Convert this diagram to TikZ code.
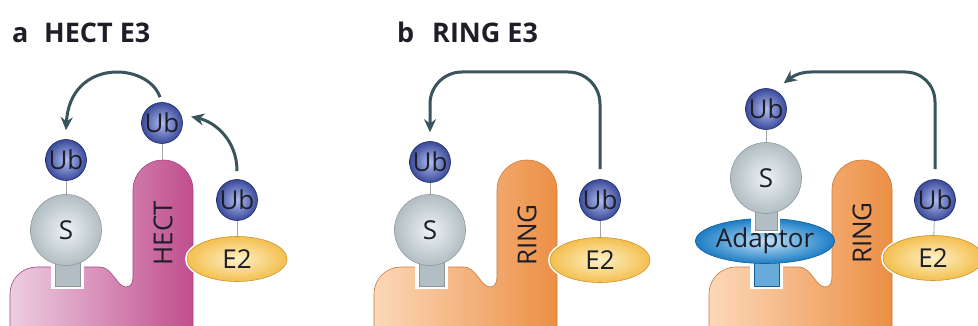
\documentclass[tikz,border=0pt]{standalone}
\usepackage{fontspec}
\setmainfont{Open Sans}
\usetikzlibrary{shapes.geometric,arrows.meta}
\definecolor{ubin}{HTML}{B0BDF0}
\definecolor{ubout}{HTML}{3A4A9A}
\definecolor{ubline}{HTML}{1D2866}
\definecolor{sin}{HTML}{EDF2F4}
\definecolor{sout}{HTML}{B2BEC3}
\definecolor{sline}{HTML}{8C989C}
\definecolor{etin}{HTML}{FDF1C6}
\definecolor{etout}{HTML}{F4BF4F}
\definecolor{etline}{HTML}{C9962E}
\definecolor{adin}{HTML}{C4E3F8}
\definecolor{adout}{HTML}{1C7DC4}
\definecolor{adline}{HTML}{155E96}
\definecolor{pinkL}{HTML}{EECEE2}
\definecolor{pinkR}{HTML}{C04E8D}
\definecolor{pinkline}{HTML}{A3457C}
\definecolor{orL}{HTML}{FCD8B8}
\definecolor{orR}{HTML}{EC8F45}
\definecolor{orline}{HTML}{CC7A3C}
\definecolor{arrowcol}{HTML}{3A535D}
\definecolor{linkcol}{HTML}{A0A8AB}
\definecolor{ink}{HTML}{1E1E28}
\newcommand{\basepath}{(10,330) -- (10,294) .. controls (10,279) and (22,267) .. (37,267) -- (100,267) .. controls (112,267) and (117,287) .. (126,287) .. controls (131,287) and (133,283) .. (133,276) -- (133,190) .. controls (133,173.4) and (146.4,160) .. (163,160) .. controls (179.6,160) and (193,173.4) .. (193,190) -- (193,330) -- cycle}
\tikzset{
	lab/.style={text=ink,inner sep=0pt,font=\fontsize{26}{26}\selectfont},
	title/.style={text=ink,inner sep=0pt,anchor=base west,font=\fontsize{27}{27}\selectfont\bfseries},
	ub/.style={lab,circle,minimum size=41pt,draw=ubline,line width=0.6pt,inner color=ubin,outer color=ubout},
	sball/.style={lab,circle,minimum size=71pt,draw=sline,line width=0.6pt,inner color=sin,outer color=sout},
	etwo/.style={lab,ellipse,minimum width=100pt,minimum height=45pt,preaction={draw=white,line width=4pt},draw=etline,line width=0.6pt,inner color=etin,outer color=etout},
	adaptor/.style={lab,ellipse,minimum width=125pt,minimum height=45pt,draw=adline,line width=0.6pt,inner color=adin,outer color=adout},
	hectbase/.style={draw=pinkline,line width=0.6pt,left color=pinkL,right color=pinkR},
	ringbase/.style={draw=orline,line width=0.6pt,left color=orL,right color=orR},
	stemS/.style={draw=sline,line width=0.6pt,fill=sout},
	stemA/.style={draw=adline,line width=0.6pt,fill=adout!55!adin},
	link/.style={draw=linkcol,line width=0.8pt},
	arr/.style={draw=arrowcol,line width=3pt,-{Stealth[length=13pt,width=12pt]}},
}
\begin{document}
\begin{tikzpicture}[x=1pt,y=-1pt]
	\useasboundingbox (0,0) rectangle (978,326);
	
	% a: HECT E3
	\node[title] (labA) at (12,43) {a};
	\node[title] (titA) at (44,43) {HECT E3};
	\draw[hectbase] \basepath;
	\fill[white] (51,266) rectangle (84,289);
	\draw[stemS] (55,250) rectangle (80,286);
	\node[sball] (sA) at (66,230) {S};
	\node[ub] (ubSA) at (66,160) {Ub};
	\draw[link] (ubSA) -- (sA);
	\node[lab,rotate=90] (hect) at (163,233) {HECT};
	\coordinate (hectTop) at (162,160);
	\node[ub] (ubHA) at (162,123) {Ub};
	\draw[link] (ubHA) -- (hectTop);
	\node[etwo] (etA) at (237,259) {E2};
	\node[ub] (ubEA) at (237,200) {Ub};
	\draw[link] (ubEA) -- (etA);
	\draw[arr] ([xshift=-2pt,yshift=5pt]ubHA.north) .. controls (148,62) and (70,58) .. ([yshift=9pt]ubSA.north);
	\draw[arr] ([yshift=8pt]ubEA.north) .. controls (237,140) and (215,122) .. ([xshift=9pt,yshift=1pt]ubHA.15);
	
	% b: RING E3
	\node[title] (labB) at (397,43) {b};
	\node[title] (titB) at (432,43) {RING E3};
	\begin{scope}[xshift=364pt]
		\draw[ringbase] \basepath;
		\fill[white] (51,266) rectangle (84,289);
		\draw[stemS] (55,250) rectangle (80,286);
		\node[sball] (sB) at (66,230) {S};
		\node[ub] (ubSB) at (66,162) {Ub};
		\draw[link] (ubSB) -- (sB);
		\node[lab,rotate=90] (ringB) at (163,235) {RING};
		\node[etwo] (etB) at (236,260) {E2};
		\node[ub] (ubEB) at (236,200) {Ub};
		\draw[link] (ubEB) -- (etB);
		\draw[arr,rounded corners=32pt] ([yshift=10pt]ubEB.north) -- (236,72) -- (66,72) -- ([yshift=9pt]ubSB.north);
	\end{scope}
	
	% b: RING E3 with adaptor
	\begin{scope}[xshift=699pt]
		\draw[ringbase] \basepath;
		\fill[white] (51,266) rectangle (84,289);
		\draw[stemA] (55,250) rectangle (80,286);
		\node[adaptor] (adC) at (66,241) {Adaptor};
		\fill[white] (52,217) rectangle (81,233);
		\draw[stemS] (56,200) rectangle (78,230);
		\node[sball] (sC) at (67,178) {S};
		\node[ub] (ubSC) at (67,109) {Ub};
		\draw[link] (ubSC) -- (sC);
		\node[lab,rotate=90] (ringC) at (163,233) {RING};
		\node[etwo] (etC) at (234,258) {E2};
		\node[ub] (ubEC) at (236,200) {Ub};
		\draw[link] (ubEC) -- (etC);
		\draw[arr] ([yshift=10pt]ubEC.north) -- (236,102) .. controls (236,85) and (223,72) .. (206,72) -- (112,72) .. controls (100,72) and (93,77) .. ([xshift=3pt,yshift=11pt]ubSC.45);
	\end{scope}
\end{tikzpicture}
\end{document}
